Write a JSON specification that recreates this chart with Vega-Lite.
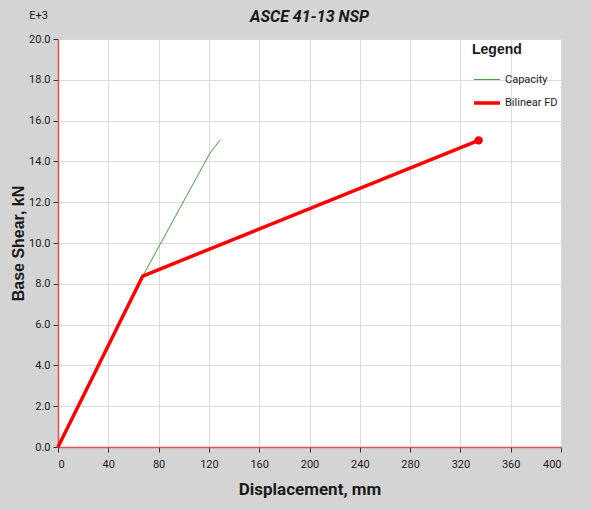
{
  "$schema": "https://vega.github.io/schema/vega-lite/v6.json",
  "width": 503,
  "height": 408,
  "autosize": {"type": "none"},
  "padding": {"left": 58, "top": 39, "right": 30, "bottom": 63},
  "background": "#d4d4d4",
  "title": {
    "text": "ASCE 41-13 NSP",
    "font": "Roboto",
    "fontSize": 16,
    "fontStyle": "italic",
    "fontWeight": "bold",
    "color": "#1a1a1a",
    "anchor": "middle",
    "baseline": "middle",
    "offset": -24
  },
  "datasets": {
    "capacity": [
      {"displacement": 0, "shear": 0, "series": "Capacity"},
      {"displacement": 67.4, "shear": 8380, "series": "Capacity"},
      {"displacement": 120.9, "shear": 14410, "series": "Capacity"},
      {"displacement": 128.8, "shear": 15050, "series": "Capacity"}
    ],
    "bilinear": [
      {"displacement": 0, "shear": 0, "series": "Bilinear FD"},
      {"displacement": 67.4, "shear": 8380, "series": "Bilinear FD"},
      {"displacement": 334.5, "shear": 15030, "series": "Bilinear FD"}
    ]
  },
  "layer": [
    {
      "data": {"name": "capacity"},
      "mark": {"type": "line", "strokeCap": "round"},
      "encoding": {
        "x": {
          "field": "displacement", "type": "quantitative",
          "scale": {"domain": [0, 400], "nice": false},
          "axis": {"values": [0, 40, 80, 120, 160, 200, 240, 280, 320, 360, 400], "title": "Displacement, mm"}
        },
        "y": {
          "field": "shear", "type": "quantitative",
          "scale": {"domain": [0, 20000], "nice": false},
          "axis": {
            "values": [0, 2000, 4000, 6000, 8000, 10000, 12000, 14000, 16000, 18000, 20000],
            "labelExpr": "format(datum.value / 1000, '.1f')",
            "title": "Base Shear, kN",
            "titleFont": "Liberation Sans",
            "titleFontSize": 16,
            "titlePadding": 2
          }
        },
        "color": {
          "field": "series", "type": "nominal",
          "scale": {"domain": ["Capacity", "Bilinear FD"], "range": ["#45a045", "#ff0000"]},
          "legend": {
            "title": "Legend",
            "orient": "none",
            "legendX": 414,
            "legendY": 4,
            "symbolType": "stroke",
            "symbolSize": 676,
            "titleFont": "Liberation Sans",
            "titleFontSize": 14,
            "titleFontWeight": "bold",
            "titleColor": "#1a1a1a",
            "titlePadding": 9,
            "labelFont": "Roboto",
            "labelFontSize": 11,
            "labelColor": "#1a1a1a",
            "labelOffset": 3,
            "rowPadding": 3
          }
        },
        "strokeWidth": {
          "field": "series", "type": "nominal",
          "scale": {"domain": ["Capacity", "Bilinear FD"], "range": [1, 3.5]},
          "legend": {
            "title": "Legend",
            "orient": "none",
            "legendX": 414,
            "legendY": 4
          }
        }
      }
    },
    {
      "data": {"name": "bilinear"},
      "mark": {"type": "line", "strokeJoin": "round"},
      "encoding": {
        "x": {"field": "displacement", "type": "quantitative"},
        "y": {"field": "shear", "type": "quantitative", "axis": null},
        "color": {"field": "series", "type": "nominal"},
        "strokeWidth": {"field": "series", "type": "nominal"}
      }
    },
    {
      "data": {"name": "bilinear"},
      "transform": [{"filter": "datum.displacement > 300"}],
      "mark": {"type": "point", "filled": true, "color": "#ff0000", "opacity": 1, "size": 70},
      "encoding": {
        "x": {"field": "displacement", "type": "quantitative"},
        "y": {
          "field": "shear", "type": "quantitative",
          "axis": {
            "orient": "left",
            "title": "E+3",
            "titleAngle": 0,
            "titleX": -20,
            "titleY": -24,
            "titleAlign": "center",
            "titleBaseline": "middle",
            "titleFont": "Roboto",
            "titleFontSize": 11,
            "titleFontWeight": "normal",
            "labels": false,
            "ticks": false,
            "domain": false,
            "grid": false
          }
        }
      }
    }
  ],
  "resolve": {"axis": {"y": "independent"}},
  "config": {
    "view": {"fill": "#ffffff", "stroke": null},
    "axis": {
      "labelFont": "Roboto",
      "labelFontSize": 11,
      "labelColor": "#1a1a1a",
      "titleFont": "Roboto",
      "titleFontSize": 17,
      "titleFontWeight": "bold",
      "titleColor": "#1a1a1a",
      "gridColor": "#dadada",
      "gridWidth": 1,
      "gridOpacity": 1,
      "domainColor": "#e05050",
      "domainWidth": 1.5,
      "tickColor": "#333333",
      "tickSize": 5,
      "tickWidth": 1
    },
    "axisX": {"labelPadding": 6, "titlePadding": 12},
    "axisY": {"labelPadding": 3}
  }
}
